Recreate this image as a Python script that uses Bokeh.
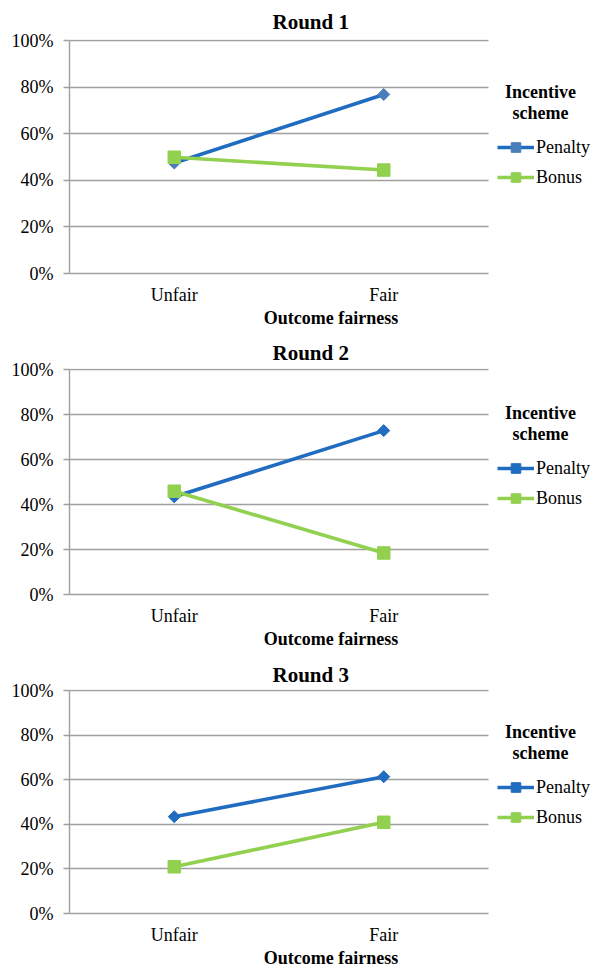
import numpy as np
from bokeh.plotting import figure
from bokeh.models import (Range1d, NumeralTickFormatter, FixedTicker, Legend, LegendItem,
                          Label, BoxAnnotation, Grid)
from bokeh.layouts import column
from bokeh.embed import file_html
from bokeh.resources import INLINE

# ---- data ----
categories = ["Unfair", "Fair"]
round_titles = ["Round 1", "Round 2", "Round 3"]
penalty = [[0.475, 0.77], [0.435, 0.73], [0.435, 0.615]]
bonus = [[0.50, 0.445], [0.46, 0.185], [0.21, 0.41]]
series_names = ["Penalty", "Bonus"]
legend_title_lines = ["Incentive", "scheme"]
x_axis_title = "Outcome fairness"
y_ticks = [0, 0.2, 0.4, 0.6, 0.8, 1.0]

# category positions on the x scale (one unit per category, centred)
xpos = [i + 0.5 for i in range(len(categories))]
ncat = len(categories)

# ---- styling / layout ----
FONT = "Liberation Serif"
BLUE = "#1f6cc0"
GREEN = "#92d050"
GRID = "#a0a0a0"
W = 592
LEFT = 69
AXIS_W = 419                 # width of the plotting area holding the categories
FRAME_W = W - LEFT           # frame extends under the legend
XEND = ncat * FRAME_W / AXIS_W
PX_PER_X = AXIS_W / ncat
BOTTOM = 57
# (figure height, top border, frame height, title standoff, penalty marker colour)
panels = [
    (330, 39, 234, 12, "#4a7ebb"),
    (321, 38, 226, 7, BLUE),
    (319, 38, 224, 5, BLUE),
]
has_cross = "cross_bounds" in Grid.properties()

figs = []
for i, (h, top, fh, tstand, pcol) in enumerate(panels):
    yend = 1 + 1.5 / fh
    px_per_y = fh / yend
    p = figure(width=W, height=h, x_range=Range1d(0, XEND), y_range=Range1d(0, yend),
               output_backend="svg", toolbar_location=None,
               min_border_left=LEFT, min_border_right=0,
               min_border_top=top, min_border_bottom=h - top - fh)
    p.outline_line_color = None
    p.background_fill_color = "white"
    p.border_fill_color = "white"

    # title
    p.title.text = round_titles[i]
    p.title.align = "left"
    p.title.offset = 203
    p.title.standoff = tstand
    p.title.text_font = FONT
    p.title.text_font_size = "21px"
    p.title.text_font_style = "bold"
    p.title.text_color = "black"

    # y axis
    p.yaxis.ticker = FixedTicker(ticks=y_ticks)
    p.yaxis.formatter = NumeralTickFormatter(format="0%")
    p.yaxis.major_label_text_font = FONT
    p.yaxis.major_label_text_font_size = "18px"
    p.yaxis.major_label_text_color = "black"
    p.yaxis.major_label_standoff = 10
    p.yaxis.major_tick_out = 6
    p.yaxis.major_tick_in = 0
    p.yaxis.minor_tick_line_color = None
    p.yaxis.axis_line_color = GRID
    p.yaxis.axis_line_width = 1.4
    p.yaxis.major_tick_line_color = GRID
    p.yaxis.major_tick_line_width = 1.4
    p.yaxis.bounds = (0, 1)

    # x axis (categories)
    p.xaxis.ticker = FixedTicker(ticks=xpos)
    p.xaxis.major_label_overrides = {x: c for x, c in zip(xpos, categories)}
    p.xaxis.bounds = (0, ncat)
    p.xaxis.major_label_text_font = FONT
    p.xaxis.major_label_text_font_size = "18px"
    p.xaxis.major_label_text_color = "black"
    p.xaxis.major_label_standoff = 11
    p.xaxis.major_tick_line_color = None
    p.xaxis.minor_tick_line_color = None
    p.xaxis.major_tick_out = 0
    p.xaxis.axis_line_color = GRID
    p.xaxis.axis_line_width = 1.4
    p.xaxis.axis_label = x_axis_title
    p.xaxis.axis_label_standoff = 0
    p.xaxis.axis_label_text_font = FONT
    p.xaxis.axis_label_text_font_size = "18px"
    p.xaxis.axis_label_text_font_style = "bold"
    p.xaxis.axis_label_text_color = "black"

    p.xgrid.grid_line_color = None
    p.ygrid.ticker = FixedTicker(ticks=y_ticks)
    p.ygrid.grid_line_color = GRID
    p.ygrid.grid_line_width = 1.4
    if has_cross:
        p.ygrid.cross_bounds = (0, ncat)

    # series
    lp = p.line(xpos, penalty[i], line_color=BLUE, line_width=3.6)
    sp = p.scatter(xpos, penalty[i], marker="square", angle=np.pi / 4, size=8.5,
                   fill_color=pcol, line_color=pcol)
    lb = p.line(xpos, bonus[i], line_color=GREEN, line_width=3.6)
    sb = p.scatter(xpos, bonus[i], marker="square", size=12.5,
                   fill_color=GREEN, line_color=GREEN)

    if not has_cross:
        p.add_layout(BoxAnnotation(left=ncat, fill_color="white", fill_alpha=1.0,
                                   line_color=None))

    legend = Legend(items=[LegendItem(label=series_names[0], renderers=[lp, sp]),
                           LegendItem(label=series_names[1], renderers=[lb, sb])],
                    location=(428, 84), glyph_width=37, glyph_height=24, label_height=24,
                    spacing=6, padding=0, margin=0, label_standoff=2,
                    border_line_color=None, background_fill_alpha=0,
                    label_text_font=FONT, label_text_font_size="18px",
                    label_text_color="black")
    p.add_layout(legend)

    lx = (540 - LEFT) / PX_PER_X
    for txt, dy in zip(legend_title_lines, [182, 161]):
        p.add_layout(Label(x=lx, y=dy / px_per_y, text=txt, text_align="center",
                           text_baseline="middle", text_font=FONT, text_font_size="18px",
                           text_font_style="bold", text_color="black"))
    figs.append(p)

layout = column(*figs, spacing=0)
open("out.html", "w").write(file_html(layout, INLINE))
